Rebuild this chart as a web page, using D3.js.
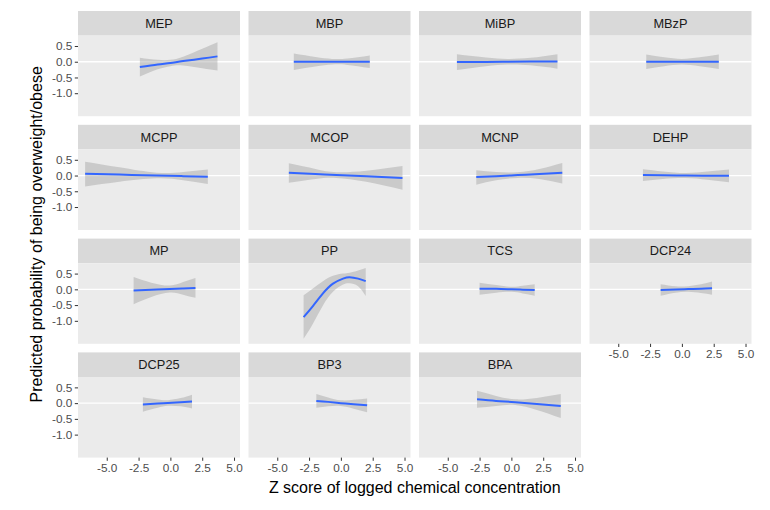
<!DOCTYPE html>
<html>
<head>
<meta charset="utf-8">
<script src="https://cdn.jsdelivr.net/npm/d3@7"></script>
<style>
  body { margin: 0; background: #fff; }
  text { font-family: "Liberation Sans", Arial, sans-serif; }
</style>
</head>
<body>
<div id="chart"></div>
<script>
// panel order (facet_wrap, 4 columns)
var chemicals = ["MEP", "MBP", "MiBP", "MBzP", "MCPP", "MCOP", "MCNP", "DEHP",
                 "MP", "PP", "TCS", "DCP24", "DCP25", "BP3", "BPA"];

// each row: [z score, fit, lower, upper]
var MEP   = [[-2.4,-0.17,-0.47,0.13],[-1,-0.09,-0.24,0.06],[0,-0.04,-0.14,0.06],[1,0.02,-0.12,0.16],[2.5,0.10,-0.21,0.41],[3.7,0.17,-0.28,0.62]];
var MBP   = [[-3.7,0,-0.26,0.26],[-2,0,-0.15,0.15],[-0.7,0,-0.09,0.09],[0.5,0,-0.10,0.10],[2.27,0,-0.2,0.2]];
var MiBP  = [[-4.28,-0.01,-0.26,0.24],[-2,-0.005,-0.145,0.135],[-0.3,0,-0.09,0.09],[1.5,0.005,-0.115,0.125],[3.62,0.01,-0.22,0.24]];
var MBzP  = [[-2.8,0,-0.23,0.23],[-1.4,0,-0.14,0.14],[0,0,-0.09,0.09],[1.4,0,-0.14,0.14],[2.9,0,-0.23,0.23]];
var MCPP  = [[-6.7,0.06,-0.35,0.44],[-4,0.03,-0.2,0.26],[-1.1,0,-0.09,0.09],[1,-0.02,-0.15,0.11],[2.94,-0.04,-0.27,0.19]];
var MCOP  = [[-4.09,0.09,-0.23,0.39],[-2,0.05,-0.11,0.21],[-0.35,0.015,-0.075,0.105],[2,-0.025,-0.2,0.15],[4.84,-0.08,-0.45,0.30]];
var MCNP  = [[-2.76,-0.05,-0.29,0.17],[-1.2,-0.02,-0.15,0.11],[0.5,0.015,-0.075,0.105],[2.2,0.05,-0.11,0.21],[4.0,0.09,-0.25,0.40]];
var DEHP  = [[-3.06,0.02,-0.17,0.2],[-1.5,0.01,-0.11,0.13],[0.3,0,-0.08,0.08],[2,-0.005,-0.135,0.125],[3.7,-0.01,-0.21,0.19]];
var MP    = [[-2.89,-0.04,-0.47,0.39],[-1.5,-0.015,-0.24,0.21],[-0.05,0.01,-0.10,0.12],[1,0.03,-0.17,0.23],[1.97,0.045,-0.27,0.36]];
var PP    = [[-2.93,-0.88,-1.57,-0.19],[-2.2,-0.53,-1.09,0.03],[-1.41,-0.13,-0.51,0.26],[-0.62,0.18,-0.08,0.43],[0.17,0.34,0.15,0.50],[0.69,0.385,0.19,0.53],[1.35,0.34,0.10,0.60],[1.95,0.26,-0.21,0.68]];
var TCS   = [[-2.5,0.02,-0.17,0.21],[-1.2,0.015,-0.105,0.135],[0,0,-0.08,0.08],[0.9,-0.01,-0.13,0.11],[1.83,-0.02,-0.2,0.16]];
var DCP24 = [[-1.67,-0.02,-0.2,0.16],[-0.5,-0.005,-0.105,0.095],[0.5,0.01,-0.08,0.10],[1.5,0.02,-0.12,0.16],[2.37,0.035,-0.175,0.245]];
var DCP25 = [[-2.16,-0.04,-0.27,0.19],[-1,-0.015,-0.145,0.115],[-0.2,0.005,-0.085,0.095],[0.8,0.03,-0.10,0.16],[1.7,0.05,-0.17,0.27]];
var BP3   = [[-1.93,0.07,-0.15,0.29],[-1,0.04,-0.10,0.18],[0,0,-0.09,0.09],[1,-0.035,-0.175,0.105],[2.06,-0.07,-0.29,0.15]];
var BPA   = [[-2.7,0.12,-0.15,0.39],[-1.2,0.07,-0.09,0.23],[0.3,0.03,-0.06,0.12],[2,-0.025,-0.215,0.165],[3.88,-0.09,-0.47,0.29]];

var xTicks = [-5, -2.5, 0, 2.5, 5];
var yTicks = [0.5, 0, -0.5, -1];

var curves = {MEP:MEP, MBP:MBP, MiBP:MiBP, MBzP:MBzP, MCPP:MCPP, MCOP:MCOP, MCNP:MCNP, DEHP:DEHP,
              MP:MP, PP:PP, TCS:TCS, DCP24:DCP24, DCP25:DCP25, BP3:BP3, BPA:BPA};

var width = 770, height = 510;
var ncol = 4,
    marginLeft = 78, marginTop = 11,
    pw = 162, colStep = 170.5,
    stripH = 24.6, ph = 80.6, rowStep = 113.8;

var svg = d3.select("#chart").append("svg")
    .attr("width", width)
    .attr("height", height);

var x = d3.scaleLinear().domain([-7.26, 5.47]).range([0, pw]);
var y = d3.scaleLinear().domain([-1.73, 0.83]).range([ph, 0]);

// plain hyphen minus like the R output
var fmt = function(d){ return d.toFixed(1); };

var line = d3.line()
    .x(function(d){ return x(d[0]); })
    .y(function(d){ return y(d[1]); })
    .curve(d3.curveNatural);

var band = d3.area()
    .x(function(d){ return x(d[0]); })
    .y0(function(d){ return y(d[2]); })
    .y1(function(d){ return y(d[3]); })
    .curve(d3.curveNatural);

var nrow = Math.ceil(chemicals.length / ncol);

function styleAxis(a){
    a.select(".domain").remove();
    a.selectAll("line").style("stroke", "#333");
    a.selectAll("text")
        .style("font-size", "11.8px")
        .style("fill", "#4d4d4d")
        .style("font-family", "Liberation Sans, Arial, sans-serif");
}

chemicals.forEach(function(name, i){
    var col = i % ncol, row = Math.floor(i / ncol);
    var px = marginLeft + col * colStep,
        py = marginTop + row * rowStep;

    var g = svg.append("g").attr("transform", "translate(" + px + "," + py + ")");

    // strip
    g.append("rect")
        .attr("width", pw).attr("height", stripH)
        .style("fill", "#d9d9d9");
    g.append("text")
        .attr("x", pw / 2).attr("y", stripH / 2 + 4.5)
        .attr("text-anchor", "middle")
        .style("font-size", "12.8px")
        .style("fill", "#1a1a1a")
        .text(name);

    var p = g.append("g").attr("transform", "translate(0," + stripH + ")");
    p.append("rect")
        .attr("width", pw).attr("height", ph)
        .style("fill", "#ebebeb");

    p.append("line")
        .attr("x1", 0).attr("x2", pw)
        .attr("y1", y(0)).attr("y2", y(0))
        .style("stroke", "#fff")
        .style("stroke-width", 1.3);

    var data = curves[name];
    p.append("path")
        .attr("d", band(data))
        .style("fill", "#999999")
        .style("fill-opacity", 0.4);
    p.append("path")
        .attr("d", line(data))
        .style("fill", "none")
        .style("stroke", "#3366ff")
        .style("stroke-width", 2);

    // y axis on first column
    if (col === 0) {
        var ya = p.append("g")
            .call(d3.axisLeft(y).tickValues(yTicks).tickFormat(fmt).tickSize(3.2).tickPadding(2.5));
        styleAxis(ya);
    }

    // x axis under the lowest panel of each column
    if (i + ncol >= chemicals.length) {
        var xa = p.append("g")
            .attr("transform", "translate(0," + ph + ")")
            .call(d3.axisBottom(x).tickValues(xTicks).tickFormat(fmt).tickSize(3.2).tickPadding(2.5));
        styleAxis(xa);
    }
});

var plotBottom = marginTop + (nrow - 1) * rowStep + stripH + ph;
var plotRight = marginLeft + (ncol - 1) * colStep + pw;

svg.append("text")
    .attr("x", (marginLeft + plotRight) / 2)
    .attr("y", 493)
    .attr("text-anchor", "middle")
    .style("font-size", "16px")
    .style("fill", "#000")
    .text("Z score of logged chemical concentration");

svg.append("text")
    .attr("transform", "translate(42," + (marginTop + plotBottom) / 2 + ") rotate(-90)")
    .attr("text-anchor", "middle")
    .style("font-size", "16px")
    .style("fill", "#000")
    .text("Predicted probability of being overweight/obese");
</script>
</body>
</html>
